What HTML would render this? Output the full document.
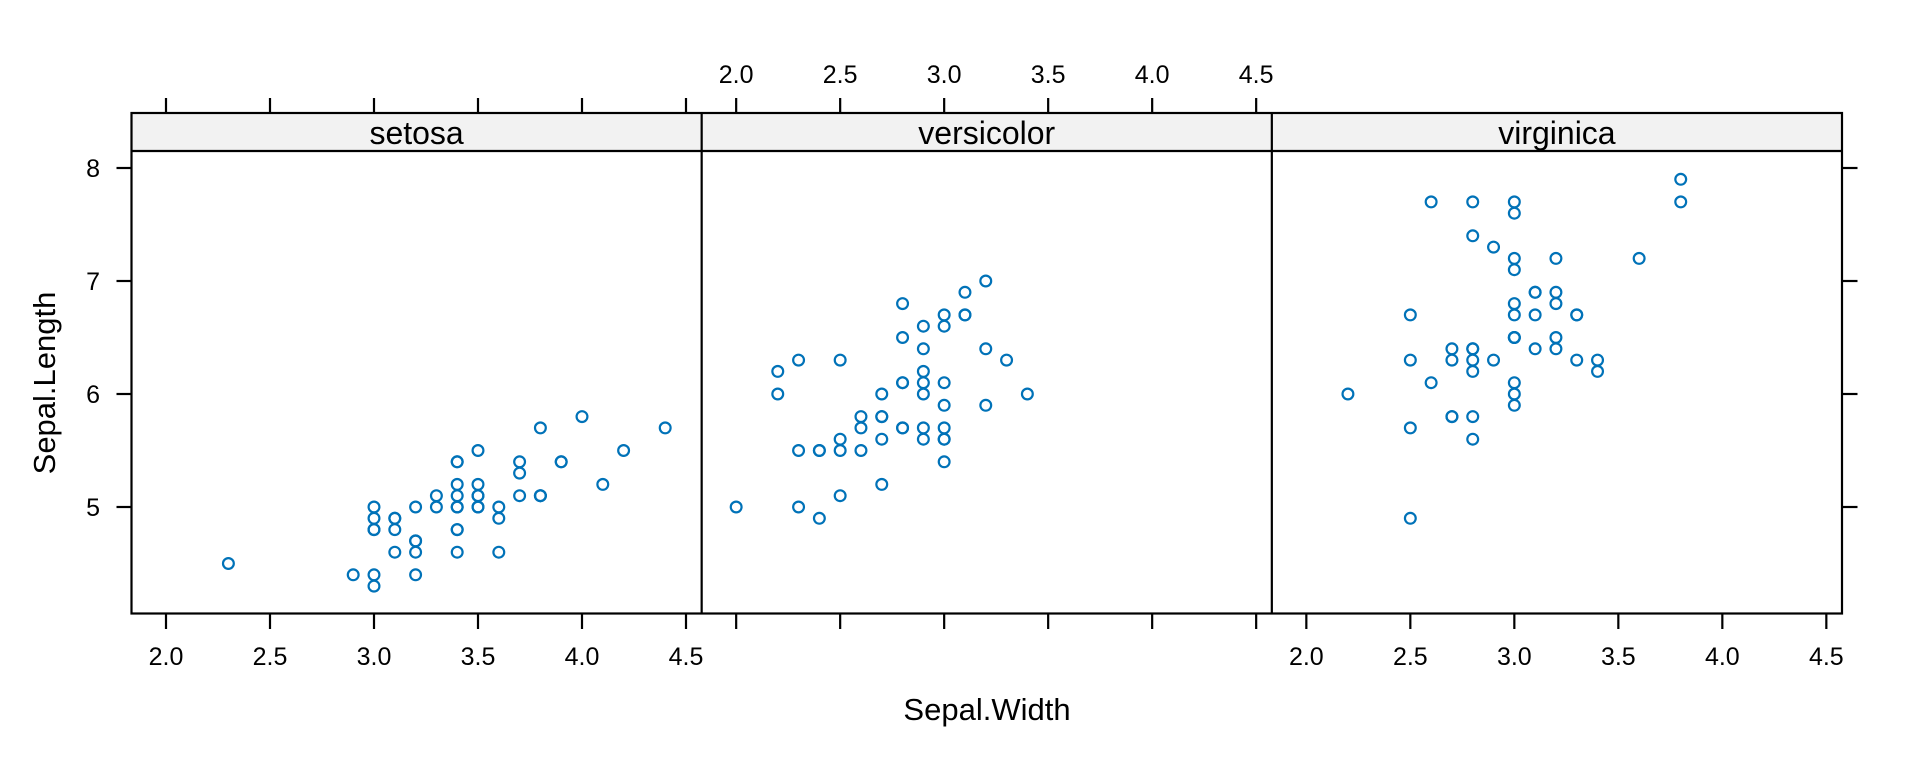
<!DOCTYPE html>
<html><head><meta charset="utf-8"><style>
html,body{margin:0;padding:0;background:#fff}
svg{display:block}
text{font-family:"Liberation Sans",Arial,sans-serif;fill:#000}
</style></head><body>
<svg id="s" width="1920" height="768" viewBox="0 0 1920 768" xmlns="http://www.w3.org/2000/svg">
<g id="g"></g>
</svg>
<script>
const NS="http://www.w3.org/2000/svg";const g=document.getElementById('g');
function el(t,a,txt){const e=document.createElementNS(NS,t);for(const k in a)e.setAttribute(k,a[k]);if(txt!==undefined)e.textContent=txt;g.appendChild(e);return e;}
const L=131.5,R=1842,T=113,B=613.5,ST=151;
const PW=(R-L)/3;const ux=208;const uy=113;
function X(p,v){return L+p*PW+34.5+(v-2)*ux;}
function Y(v){return 168-(v-8)*uy;}
const xt=[2,2.5,3,3.5,4,4.5];
const sw=2.2;
for(let p=0;p<3;p++){el('rect',{x:L+p*PW,y:T,width:PW,height:ST-T,fill:'#f2f2f2',stroke:'none'});}
const names=['setosa','versicolor','virginica'];
for(let p=0;p<3;p++)el('text',{x:L+p*PW+PW/2,y:144,'font-size':32,'text-anchor':'middle'},names[p]);
el('rect',{x:L,y:T,width:R-L,height:B-T,fill:'none',stroke:'#000','stroke-width':sw});
el('line',{x1:L,x2:R,y1:ST,y2:ST,stroke:'#000','stroke-width':sw});
for(let p=1;p<3;p++)el('line',{x1:L+p*PW,x2:L+p*PW,y1:T,y2:B,stroke:'#000','stroke-width':sw});
for(let p=0;p<3;p++)for(const v of xt){const x=X(p,v);
 if(p<2)el('line',{x1:x,x2:x,y1:98,y2:T,stroke:'#000','stroke-width':sw});
 el('line',{x1:x,x2:x,y1:B,y2:629,stroke:'#000','stroke-width':sw});
 if(p==1)el('text',{x:x,y:83,'font-size':25,'text-anchor':'middle'},v.toFixed(1));
 if(p!=1)el('text',{x:x,y:665,'font-size':25,'text-anchor':'middle'},v.toFixed(1));
}
for(const v of [5,6,7,8]){const y=Y(v);
 el('line',{x1:116.5,x2:L,y1:y,y2:y,stroke:'#000','stroke-width':sw});
 el('line',{x1:R,x2:1857.5,y1:y,y2:y,stroke:'#000','stroke-width':sw});
 el('text',{x:100,y:y+9,'font-size':25,'text-anchor':'end'},String(v));
}
el('text',{x:987,y:720,'font-size':31,'text-anchor':'middle'},'Sepal.Width');
el('text',{x:0,y:0,'font-size':31,'text-anchor':'middle',transform:'translate(55,383) rotate(-90)'},'Sepal.Length');
const D=[
[[5.1,4.9,4.7,4.6,5.0,5.4,4.6,5.0,4.4,4.9,5.4,4.8,4.8,4.3,5.8,5.7,5.4,5.1,5.7,5.1,5.4,5.1,4.6,5.1,4.8,5.0,5.0,5.2,5.2,4.7,4.8,5.4,5.2,5.5,4.9,5.0,5.5,4.9,4.4,5.1,5.0,4.5,4.4,5.0,5.1,4.8,5.1,4.6,5.3,5.0],
[3.5,3.0,3.2,3.1,3.6,3.9,3.4,3.4,2.9,3.1,3.7,3.4,3.0,3.0,4.0,4.4,3.9,3.5,3.8,3.8,3.4,3.7,3.6,3.3,3.4,3.0,3.4,3.5,3.4,3.2,3.1,3.4,4.1,4.2,3.1,3.2,3.5,3.6,3.0,3.4,3.5,2.3,3.2,3.5,3.8,3.0,3.8,3.2,3.7,3.3]],
[[7.0,6.4,6.9,5.5,6.5,5.7,6.3,4.9,6.6,5.2,5.0,5.9,6.0,6.1,5.6,6.7,5.6,5.8,6.2,5.6,5.9,6.1,6.3,6.1,6.4,6.6,6.8,6.7,6.0,5.7,5.5,5.5,5.8,6.0,5.4,6.0,6.7,6.3,5.6,5.5,5.5,6.1,5.8,5.0,5.6,5.7,5.7,6.2,5.1,5.7],
[3.2,3.2,3.1,2.3,2.8,2.8,3.3,2.4,2.9,2.7,2.0,3.0,2.2,2.9,2.9,3.1,3.0,2.7,2.2,2.5,3.2,2.8,2.5,2.8,2.9,3.0,2.8,3.0,2.9,2.6,2.4,2.4,2.7,2.7,3.0,3.4,3.1,2.3,3.0,2.5,2.6,3.0,2.6,2.3,2.7,3.0,2.9,2.9,2.5,2.8]],
[[6.3,5.8,7.1,6.3,6.5,7.6,4.9,7.3,6.7,7.2,6.5,6.4,6.8,5.7,5.8,6.4,6.5,7.7,7.7,6.0,6.9,5.6,7.7,6.3,6.7,7.2,6.2,6.1,6.4,7.2,7.4,7.9,6.4,6.3,6.1,7.7,6.3,6.4,6.0,6.9,6.7,6.9,5.8,6.8,6.7,6.7,6.3,6.5,6.2,5.9],
[3.3,2.7,3.0,2.9,3.0,3.0,2.5,2.9,2.5,3.6,3.2,2.7,3.0,2.5,2.8,3.2,3.0,3.8,2.6,2.2,3.2,2.8,2.8,2.7,3.3,3.2,2.8,3.0,2.8,3.0,2.8,3.8,2.8,2.8,2.6,3.0,3.4,3.1,3.0,3.1,3.1,3.1,2.7,3.2,3.3,3.0,2.5,3.0,3.4,3.0]]];
for(let p=0;p<3;p++){const [sl,sw2]=D[p];for(let i=0;i<sl.length;i++)el('circle',{cx:X(p,sw2[i]),cy:Y(sl[i]),r:5.4,fill:'none',stroke:'#0072b8','stroke-width':2.2});}
</script>
</body></html>
